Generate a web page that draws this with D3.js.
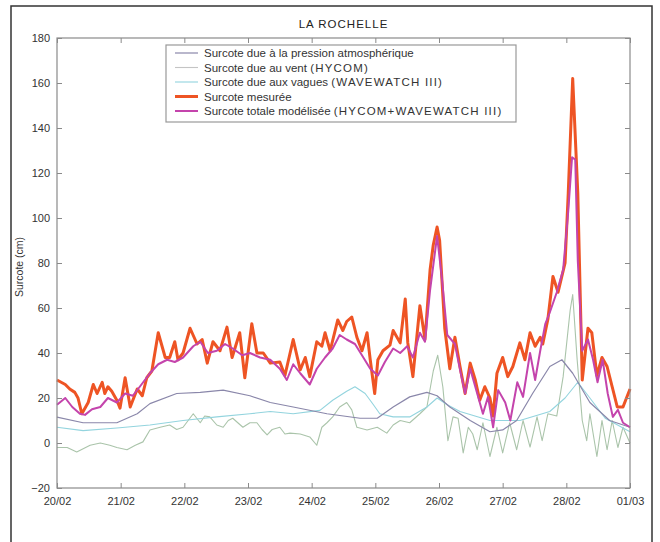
<!DOCTYPE html>
<html><head><meta charset="utf-8">
<script src="https://cdn.jsdelivr.net/npm/d3@7"></script>
<style>
body{margin:0;background:#fff;}
svg{display:block;font-family:"Liberation Sans",Arial,sans-serif;}
</style></head><body>
<svg id="c" width="660" height="542"></svg>
<script>
const title = "LA ROCHELLE";
const yLabel = "Surcote (cm)";
const xTickLabels = ["20/02","21/02","22/02","23/02","24/02","25/02","26/02","27/02","28/02","01/03"];
const yTicks = [-20,0,20,40,60,80,100,120,140,160,180];
const seriesNames = [
  "Surcote due à la pression atmosphérique",
  "Surcote due au vent (HYCOM)",
  "Surcote due aux vagues (WAVEWATCH III)",
  "Surcote mesurée",
  "Surcote totale modélisée (HYCOM+WAVEWATCH III)"
];
// time in days since 20/02 00:00
const pressionT = [0,0.41,0.94,1.26,1.46,1.88,2.25,2.61,3.03,3.35,3.71,4.24,4.76,5.03,5.28,5.54,5.81,5.97,6.17,6.49,6.80,7.00,7.22,7.47,7.74,7.93,8.10,8.37,8.68,9.00];
const pressionV = [11.5,9,9,13,17.5,22,22.5,23.5,21,18,16,13,11,11,16,20.5,22.5,21,16,10,5,5.8,10,22,34,37,31,18,10,7];

const ventT = [0,0.16,0.31,0.52,0.68,0.83,0.94,1.10,1.23,1.35,1.46,1.62,1.77,1.88,1.98,2.06,2.14,2.25,2.32,2.40,2.51,2.61,2.69,2.76,2.84,2.92,3.03,3.14,3.22,3.30,3.38,3.50,3.58,3.66,3.82,3.97,4.08,4.16,4.24,4.33,4.44,4.55,4.63,4.71,4.87,5.03,5.18,5.28,5.39,5.54,5.70,5.81,5.91,5.98,6.06,6.14,6.22,6.30,6.38,6.46,6.53,6.60,6.69,6.80,6.91,7.00,7.11,7.22,7.32,7.43,7.54,7.62,7.71,7.85,7.95,8.06,8.10,8.17,8.25,8.32,8.37,8.48,8.56,8.64,8.72,8.81,8.89,9.00];
const ventV = [-2,-2,-4,-1,0,-1,-2,-3,-1,0.5,5.8,7,8,6,7,10,13,9,12,11.6,8,7,10,11,9,7,9,9,6,3.6,6,7,4,4.4,4,2.7,-1,7,9,11.6,16,18,14.7,7,5.8,7,4.4,8,10,9,13,16,32,39,25,1,11.6,11,-4.4,7,4,-3,9,-6,7,-4.4,9,-3,10,-1.8,11.6,1,13,12,29.5,59,66,37,10,1,13,-6,10,-3,10,-2,7,0];

const vaguesT = [0,0.41,0.94,1.46,1.98,2.51,3.03,3.35,3.71,4.13,4.33,4.55,4.68,4.84,4.97,5.07,5.28,5.54,5.81,5.97,6.13,6.33,6.80,7.27,7.74,7.98,8.18,8.37,8.61,9.00];
const vaguesV = [7,5.5,6.7,8,10,11.6,13,14,13,14.5,19,23,25,22,17,13,11.6,11.6,16,20,17,14,10,10,14,20,27,20,11,5];

const mesureeT = [0,0.13,0.20,0.28,0.33,0.39,0.49,0.57,0.63,0.71,0.75,0.80,0.86,0.94,0.99,1.07,1.15,1.26,1.34,1.41,1.49,1.59,1.70,1.77,1.85,1.90,1.98,2.09,2.20,2.28,2.36,2.45,2.56,2.67,2.75,2.87,2.95,3.06,3.14,3.24,3.35,3.50,3.58,3.71,3.82,3.90,3.97,4.08,4.16,4.21,4.29,4.41,4.49,4.55,4.63,4.71,4.79,4.87,4.92,4.99,5.04,5.12,5.23,5.28,5.39,5.47,5.51,5.59,5.70,5.78,5.86,5.91,5.97,6.01,6.09,6.17,6.25,6.33,6.41,6.49,6.57,6.64,6.72,6.80,6.85,6.91,7.00,7.08,7.16,7.27,7.35,7.43,7.51,7.59,7.63,7.71,7.79,7.87,7.98,8.03,8.10,8.18,8.25,8.34,8.40,8.48,8.56,8.64,8.72,8.80,8.89,9.00];
const mesureeV = [28,26,24,22.5,20,13,18,26,22,27,22,25,23,19,15.5,29,16,24,21,29,32,49,38,38,45,37,40,51,44,46,35.5,45,41,51.5,38,49,29,53,40,40,35.5,36,30,46,32.5,38,29.5,45,43,49,41,54.7,50,54,56,47,41,49,37,22,37,41,43.5,50,44.5,64,44.5,29.5,61,46,77,88,96,90,51,33,47,34,22,35.5,28,19,25,20,12,31,38,29.5,34,44.5,37,49,43,47,44,55,74,67,80,111,162,111,28,51,49,30,38,34,25,16,16,24];

const totaleT = [0,0.13,0.24,0.36,0.44,0.55,0.68,0.80,0.94,1.07,1.19,1.30,1.46,1.59,1.73,1.85,1.98,2.14,2.25,2.37,2.51,2.64,2.76,2.91,3.03,3.19,3.35,3.50,3.61,3.71,3.82,3.97,4.08,4.21,4.33,4.44,4.55,4.68,4.79,4.92,5.04,5.15,5.28,5.39,5.50,5.59,5.70,5.78,5.86,5.97,6.05,6.13,6.25,6.33,6.41,6.49,6.60,6.69,6.77,6.85,6.93,7.04,7.12,7.23,7.32,7.43,7.51,7.59,7.67,7.74,7.85,7.95,8.03,8.09,8.14,8.18,8.25,8.34,8.42,8.49,8.57,8.65,8.73,8.81,8.89,9.00];
const totaleV = [17,20,16,13,12.5,15,16,20,18,22,21,25,31,35,37,36,38,43,45,40,41,44,42,39,40,38,37,33,28,35,31,26,33,38,42,48,46,44,39,33,30,36,42,40,43,38,49,45,68,92,72,48,44,32.5,22,33,22,13,20.5,7,23.5,18,10,27,20.5,40,28,41,53,58,67,77,103,127,126,81,41,46,37,27,37,22,11.6,14.7,9,7];

const colors = ["#8a87aa","#aac4aa","#93d4de","#ee5424","#c444ac"];
const widths = [1.2,1.1,1.1,3,2];

const svg = d3.select("#c");
const L=57, R=630, T=38, B=488;
const x = d3.scaleLinear().domain([0,9]).range([L,R]);
const y = d3.scaleLinear().domain([-20,180]).range([B,T]);

// outer frame
svg.append("rect").attr("x",11).attr("y",6).attr("width",641).attr("height",560)
  .attr("fill","none").attr("stroke","#333").attr("stroke-width",1.5);

svg.append("text").attr("x",(L+R)/2).attr("y",28).attr("text-anchor","middle")
  .attr("font-size",11.5).attr("letter-spacing",1).attr("fill","#222").text(title);

const data = [
  [pressionT,pressionV],[ventT,ventV],[vaguesT,vaguesV],[mesureeT,mesureeV],[totaleT,totaleV]
];
const line = d3.line().x(d=>x(d[0])).y(d=>y(d[1]));
const order = [1,2,0,3,4];
const g = svg.append("g");
order.forEach(i=>{
  const pts = data[i][0].map((t,k)=>[t,data[i][1][k]]);
  g.append("path").datum(pts).attr("d",line).attr("fill","none")
   .attr("stroke",colors[i]).attr("stroke-width",widths[i]).attr("stroke-linejoin","round");
});

// axes (MATLAB box with inward ticks)
const axCol = "#8a8a8a";
svg.append("rect").attr("x",L).attr("y",T).attr("width",R-L).attr("height",B-T)
  .attr("fill","none").attr("stroke",axCol).attr("stroke-width",1.2);
const xAx = svg.append("g").attr("transform",`translate(0,${B})`)
  .call(d3.axisBottom(x).tickValues(d3.range(0,10)).tickSize(-5).tickFormat((d,i)=>xTickLabels[i]).tickPadding(9));
const xAxT = svg.append("g").attr("transform",`translate(0,${T})`)
  .call(d3.axisTop(x).tickValues(d3.range(0,10)).tickSize(-5).tickFormat(""));
const yAx = svg.append("g").attr("transform",`translate(${L},0)`)
  .call(d3.axisLeft(y).tickValues(yTicks).tickSize(-5).tickPadding(7));
const yAxR = svg.append("g").attr("transform",`translate(${R},0)`)
  .call(d3.axisRight(y).tickValues(yTicks).tickSize(-5).tickFormat(""));
[xAx,xAxT,yAx,yAxR].forEach(a=>{
  a.select(".domain").remove();
  a.selectAll("line").attr("stroke",axCol);
  a.selectAll("text").attr("font-size",11).attr("fill","#333").attr("font-family","Liberation Sans, Arial, sans-serif");
});

svg.append("text").attr("transform",`translate(23,${(T+B)/2 + 4}) rotate(-90)`)
  .attr("text-anchor","middle").attr("font-size",10.5).attr("fill","#333").text(yLabel);

// legend
const lg = svg.append("g");
lg.append("rect").attr("x",166).attr("y",45).attr("width",350).attr("height",77)
  .attr("fill","#fff").attr("stroke","#999").attr("stroke-width",1.2);
seriesNames.forEach((n,i)=>{
  const yy = 53 + i*14.5;
  lg.append("line").attr("x1",175).attr("x2",198).attr("y1",yy).attr("y2",yy)
    .attr("stroke",i===1?"#c4c4c4":colors[i]).attr("stroke-width",widths[i]);
  const t = lg.append("text").attr("x",204).attr("y",yy+4).attr("font-size",11.5).attr("fill","#333");
  const k = n.indexOf("(");
  if (k >= 0) {
    t.append("tspan").text(n.slice(0,k));
    t.append("tspan").attr("letter-spacing",1.2).text(n.slice(k));
  } else {
    t.text(n);
  }
});
</script></body></html>
